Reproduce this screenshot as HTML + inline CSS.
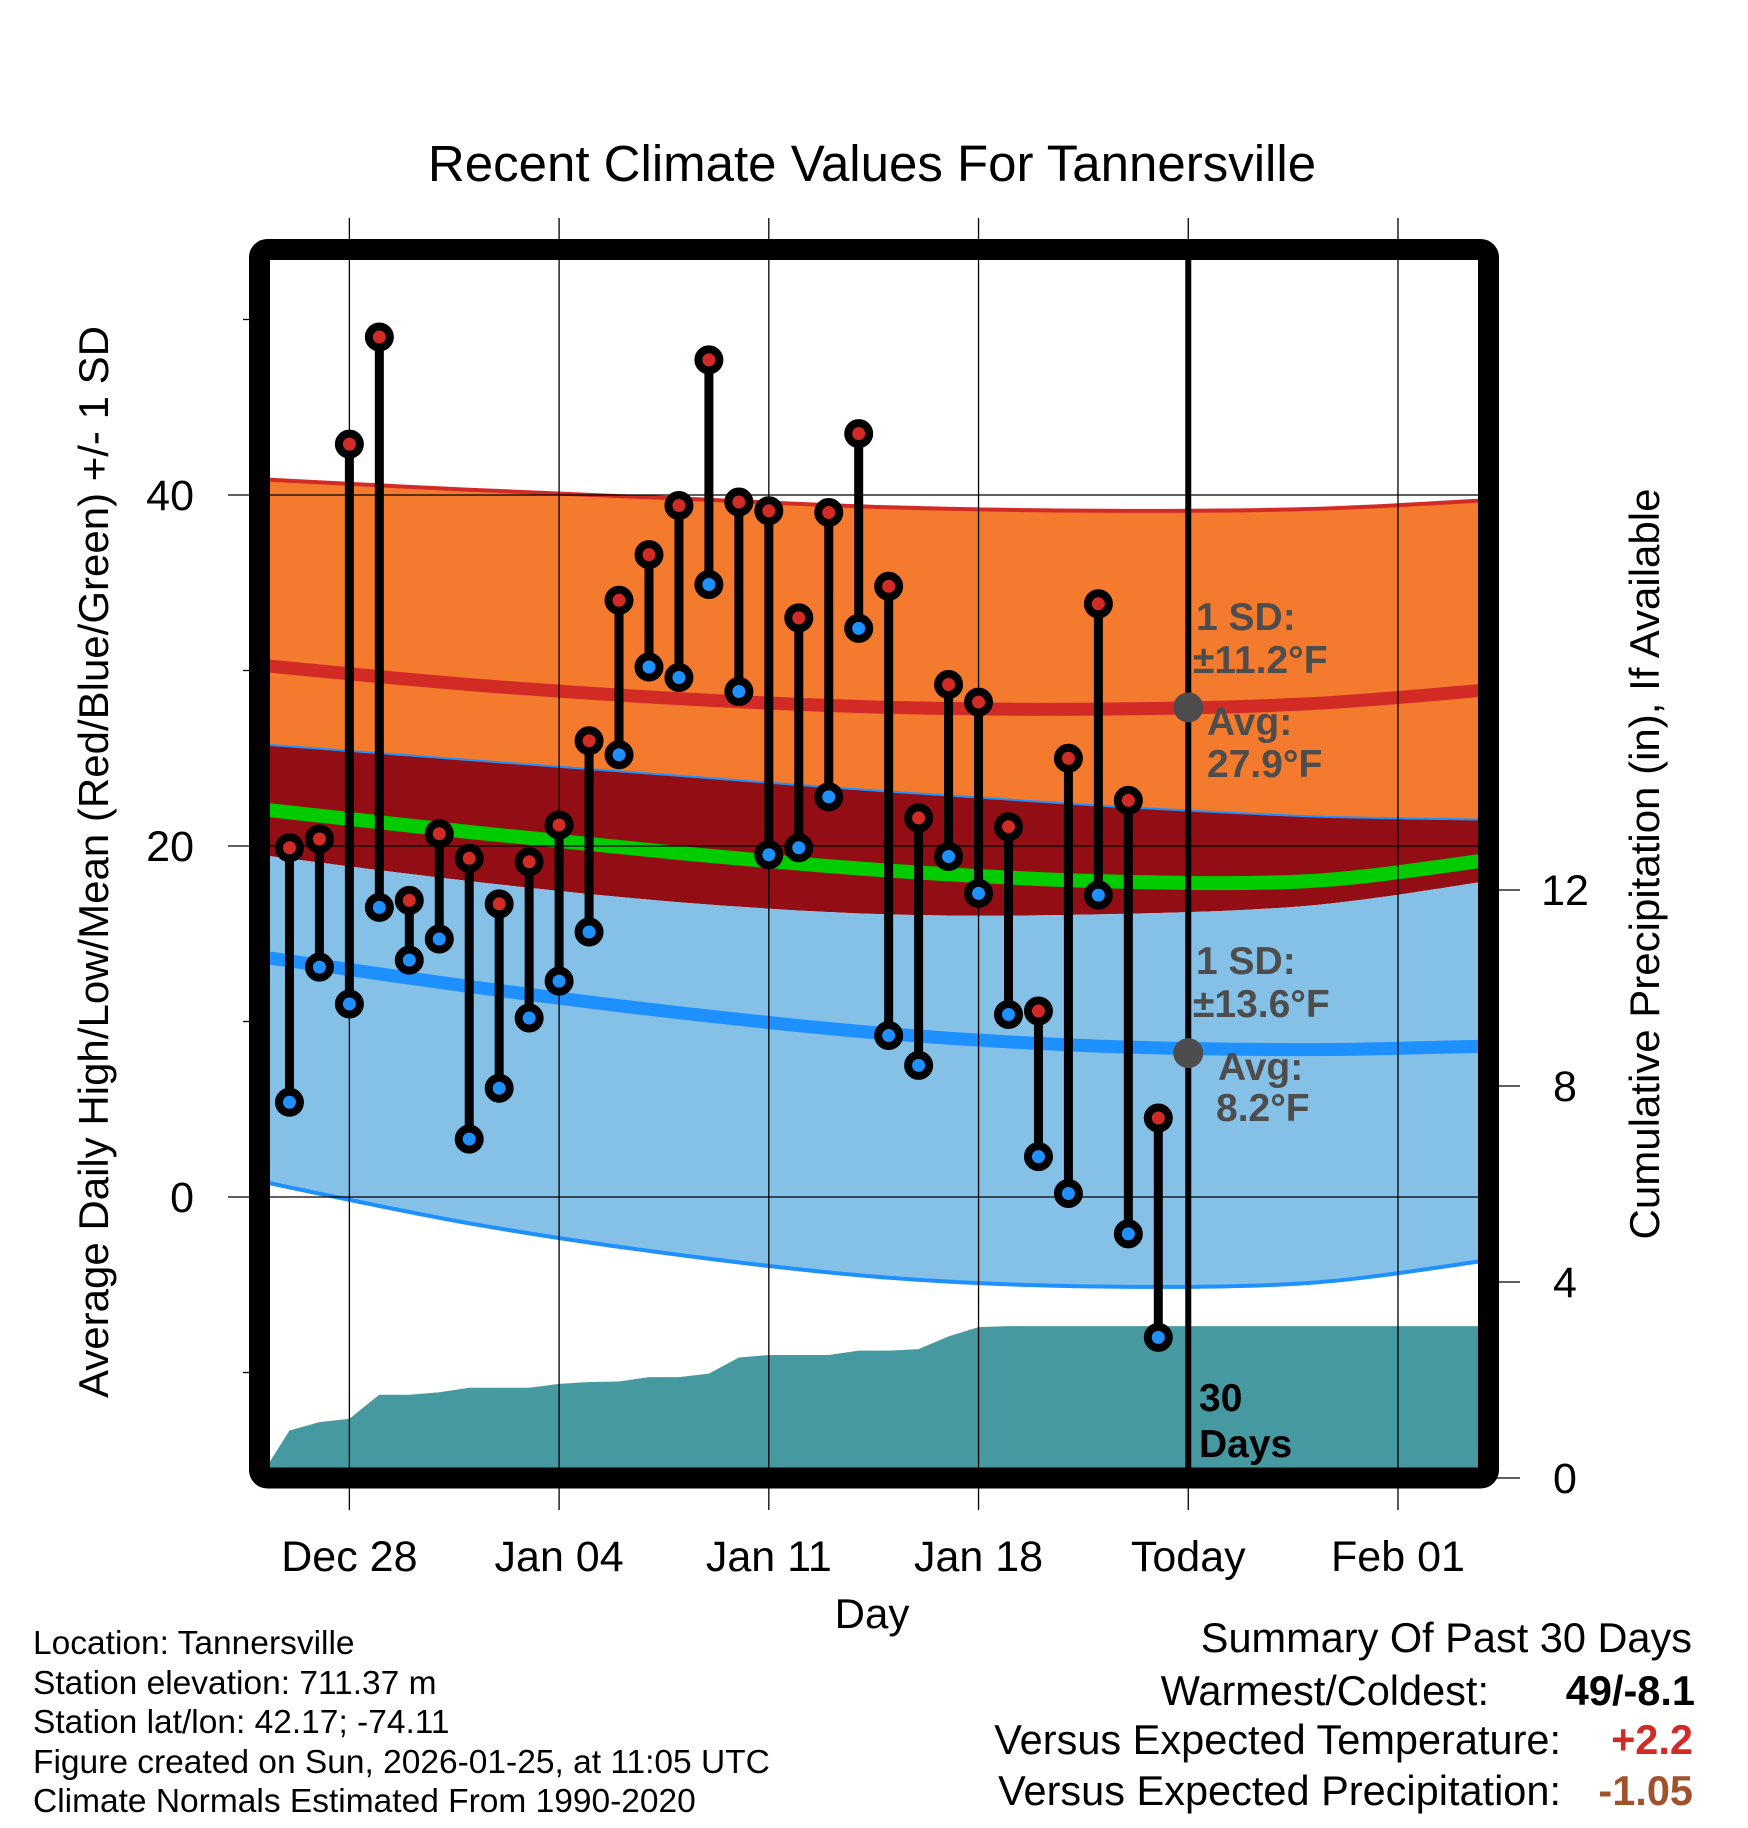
<!DOCTYPE html>
<html><head><meta charset="utf-8"><style>
html,body{margin:0;padding:0;background:#fff}
svg{display:block}
text{font-family:"Liberation Sans",sans-serif}
</style></head><body>
<svg id="chart" xmlns="http://www.w3.org/2000/svg" width="1748" height="1828" viewBox="0 0 1748 1828">
<defs><clipPath id="plotclip"><rect x="270" y="260" width="1208" height="1208"/></clipPath></defs>
<rect width="1748" height="1828" fill="#fff"/>
<text x="872" y="181" font-size="51" text-anchor="middle">Recent Climate Values For Tannersville</text>
<g id="fills" clip-path="url(#plotclip)"></g>
<g id="grid"></g>
<g id="marks"></g>
<g id="annot"></g>
<rect x="259.5" y="249.5" width="1229" height="1228.5" rx="8" fill="none" stroke="#000" stroke-width="21"/>
<g id="axes"></g>
<text x="872" y="1628" font-size="42" text-anchor="middle">Day</text>
<text transform="translate(108,862) rotate(-90)" font-size="42" text-anchor="middle">Average Daily High/Low/Mean (Red/Blue/Green) +/- 1 SD</text>
<text transform="translate(1659,864) rotate(-90)" font-size="42" text-anchor="middle">Cumulative Precipitation (in), If Available</text>
<g font-size="33.5">
<text x="33" y="1654">Location: Tannersville</text>
<text x="33" y="1694">Station elevation: 711.37 m</text>
<text x="33" y="1733">Station lat/lon: 42.17; -74.11</text>
<text x="33" y="1773">Figure created on Sun, 2026-01-25, at 11:05 UTC</text>
<text x="33" y="1812">Climate Normals Estimated From 1990-2020</text>
</g>
<g font-size="41.5" text-anchor="end">
<text x="1692" y="1652">Summary Of Past 30 Days</text>
<text x="1489" y="1705">Warmest/Coldest:</text>
<text x="1695" y="1705" font-weight="bold">49/-8.1</text>
<text x="1561" y="1754">Versus Expected Temperature:</text>
<text x="1693" y="1754" font-weight="bold" fill="#d22b26">+2.2</text>
<text x="1561" y="1805">Versus Expected Precipitation:</text>
<text x="1693" y="1805" font-weight="bold" fill="#a0522d">-1.05</text>
</g>
</svg>
<script>
// ---- data ----
const days = [1,2,3,4,5,6,7,8,9,10,11,12,13,14,15,16,17,18,19,20,21,22,23,24,25,26,27,28,29,30];
const highs = [19.9,20.4,42.9,49.0,16.9,20.7,19.3,16.7,19.1,21.2,26.0,34.0,36.6,39.4,47.7,39.6,39.1,33.0,39.0,43.5,34.8,21.6,29.2,28.2,21.1,10.6,25.0,33.8,22.6,4.5];
const lows = [5.4,13.1,11.0,16.5,13.5,14.7,3.3,6.2,10.2,12.3,15.1,25.2,30.2,29.6,34.9,28.8,19.5,19.9,22.8,32.4,9.2,7.5,19.4,17.3,10.4,2.3,0.2,17.2,-2.1,-8.0];
const normDays = [0,7,14,21,28,35,41];
const highUpper = [40.9,40.3,39.8,39.3,39.1,39.2,39.7];
const highMean = [30.3,29.2,28.4,27.9,27.8,28.1,28.9];
const highLower = [25.8,24.9,24.0,23.1,22.3,21.7,21.5];
const meanNorm = [22.1,20.8,19.6,18.6,18.0,18.0,19.2];
const lowUpper = [19.5,18.0,16.8,16.1,16.1,16.6,18.0];
const lowMean = [13.7,12.0,10.5,9.3,8.6,8.4,8.6];
const lowLower = [0.9,-1.5,-3.3,-4.6,-5.1,-4.9,-3.6];
const precipDays = [0,1,2,3,4,5,6,7,8,9,10,11,12,13,14,15,16,17,18,19,20,21,22,23,24,25,30,41];
const precipCum = [0,0.97,1.14,1.21,1.70,1.70,1.75,1.84,1.84,1.84,1.92,1.96,1.97,2.06,2.06,2.13,2.46,2.51,2.51,2.51,2.60,2.60,2.63,2.89,3.08,3.10,3.10,3.10];
const xTickDays = [3,10,17,24,31,38];
const xTickLabels = ["Dec 28","Jan 04","Jan 11","Jan 18","Today","Feb 01"];
const yTicks = [0,20,40];
const yMinor = [-10,10,30,50];
const y2Ticks = [0,4,8,12];
const todayDay = 31;
const highAvg = 27.9, lowAvg = 8.2;

// ---- axes ----
const X0 = 259.5, DX = 29.96;
const xs = d => X0 + d*DX;
const ys = v => 1197 - v*17.55;
const yp = p => 1478 - p*49;
const NS = "http://www.w3.org/2000/svg";
function mk(tag, attrs, parent){const e=document.createElementNS(NS,tag);for(const k in attrs)e.setAttribute(k,attrs[k]);parent.appendChild(e);return e;}
const fills=document.getElementById('fills'), grid=document.getElementById('grid'), marks=document.getElementById('marks'), annot=document.getElementById('annot'), axes=document.getElementById('axes');

// smooth path through the normal points (Catmull-Rom)
function curve(arr, rev){
  let P=normDays.map((d,i)=>[xs(d),ys(arr[i])]);
  if(rev) P=P.slice().reverse();
  let s='';
  for(let i=0;i<P.length-1;i++){
    const p0=P[Math.max(0,i-1)],p1=P[i],p2=P[i+1],p3=P[Math.min(P.length-1,i+2)];
    const c1=[p1[0]+(p2[0]-p0[0])/6,p1[1]+(p2[1]-p0[1])/6];
    const c2=[p2[0]-(p3[0]-p1[0])/6,p2[1]-(p3[1]-p1[1])/6];
    if(i===0) s+=' '+p1[0].toFixed(1)+','+p1[1].toFixed(1);
    s+=' C'+c1[0].toFixed(1)+','+c1[1].toFixed(1)+' '+c2[0].toFixed(1)+','+c2[1].toFixed(1)+' '+p2[0].toFixed(1)+','+p2[1].toFixed(1);
  }
  return s;
}
function band(top,bot,color,name){
  const d='M'+curve(top,false)+' L'+curve(bot,true)+' Z';
  const e=mk('path',{d:d,fill:color},fills);
  
  
}
function line(arr,color,w,name){
  const e=mk('path',{d:'M'+curve(arr,false),fill:'none',stroke:color,'stroke-width':w},fills);
  
  
}
band(highUpper,highLower,'#f47a2e','high-sd-band');
band(highLower,lowUpper,'#930e14','between-band');
band(lowUpper,lowLower,'#85c1e6','low-sd-band');
line(highUpper,'#d22b26',4,'high-upper-line');
line(highLower,'#1e90ff',2,'high-lower-line');
line(lowLower,'#1e90ff',4,'low-lower-line');
line(highMean,'#d22b26',13,'high-normal-line');
line(meanNorm,'#00cc00',14,'mean-normal-line');
line(lowMean,'#1e90ff',13,'low-normal-line');

// precip
{
  const p=precipDays.map((d,i)=>xs(d).toFixed(1)+','+yp(precipCum[i]).toFixed(1));
  p.push(xs(41)+','+yp(0)); p.push(xs(0)+','+yp(0));
  const e=mk('polygon',{points:p.join(' '),fill:'#4799a1'},fills);
  
  
}

// grid
xTickDays.forEach((d,i)=>{
  const g=mk('line',{x1:xs(d),x2:xs(d),y1:218,y2:1510,stroke:'#000','stroke-width':1.3},grid);
  
  
  const t=mk('text',{x:xs(d),y:1571,'font-size':43,'text-anchor':'middle'},axes);
  t.textContent=xTickLabels[i];
  
  
});
yTicks.forEach(v=>{
  const g=mk('line',{x1:228,x2:1478,y1:ys(v),y2:ys(v),stroke:'#000','stroke-width':1.3},grid);
  
  
  const t=mk('text',{x:194,y:ys(v)+15,'font-size':43,'text-anchor':'end'},axes);
  t.textContent=v;
  
  
});
yMinor.forEach(v=>{
  const g=mk('line',{x1:243,x2:252,y1:ys(v),y2:ys(v),stroke:'#000','stroke-width':1.3},axes);
  
  
});
y2Ticks.forEach(v=>{
  const g=mk('line',{x1:1495,x2:1520,y1:yp(v),y2:yp(v),stroke:'#000','stroke-width':1.3},axes);
  
  
  const t=mk('text',{x:1565,y:yp(v)+15,'font-size':43,'text-anchor':'middle'},axes);
  t.textContent=v;
  
  
});

// today line
{
  const e=mk('line',{x1:xs(todayDay),x2:xs(todayDay),y1:255,y2:1470,stroke:'#000','stroke-width':6},marks);
  
  
}

// stems + markers
days.forEach((d,i)=>{
  const x=xs(d);
  const s=mk('line',{x1:x,x2:x,y1:ys(highs[i]),y2:ys(lows[i]),stroke:'#000','stroke-width':9},marks);
  
  
});
days.forEach((d,i)=>{
  const x=xs(d);
  const h=mk('circle',{cx:x,cy:ys(highs[i]),r:10.5,fill:'#d22b26',stroke:'#000','stroke-width':8},marks);
  
  
  const l=mk('circle',{cx:x,cy:ys(lows[i]),r:10.5,fill:'#1e90ff',stroke:'#000','stroke-width':8},marks);
  
  
});

// annotations
function txt(x,y,s,size,name){
  const t=mk('text',{x:x,y:y,'font-size':size,'font-weight':'bold',fill:'#4d4d4d'},annot);
  t.textContent=s;
  
  
}
{
  const a=mk('circle',{cx:xs(todayDay),cy:ys(highAvg),r:15,fill:'#4d4d4d'},annot);
  
  
  const b=mk('circle',{cx:xs(todayDay),cy:ys(lowAvg),r:15,fill:'#4d4d4d'},annot);
  
  
}
txt(1196,630,'1 SD:',39,'high-sd-label');
txt(1193,673,'±11.2°F',39,'high-sd-value');
txt(1207,735,'Avg:',39,'high-avg-label');
txt(1207,777,'27.9°F',39,'high-avg-value');
txt(1196,974,'1 SD:',39,'low-sd-label');
txt(1193,1017,'±13.6°F',39,'low-sd-value');
txt(1218,1080,'Avg:',39,'low-avg-label');
txt(1216,1121,'8.2°F',39,'low-avg-value');
{
  const t1=mk('text',{x:1199,y:1411,'font-size':39,'font-weight':'bold',fill:'#000'},annot);
  t1.textContent='30';
  
  
  const t2=mk('text',{x:1199,y:1457,'font-size':39,'font-weight':'bold',fill:'#000'},annot);
  t2.textContent='Days';
  
  
}
</script>
</body></html>
